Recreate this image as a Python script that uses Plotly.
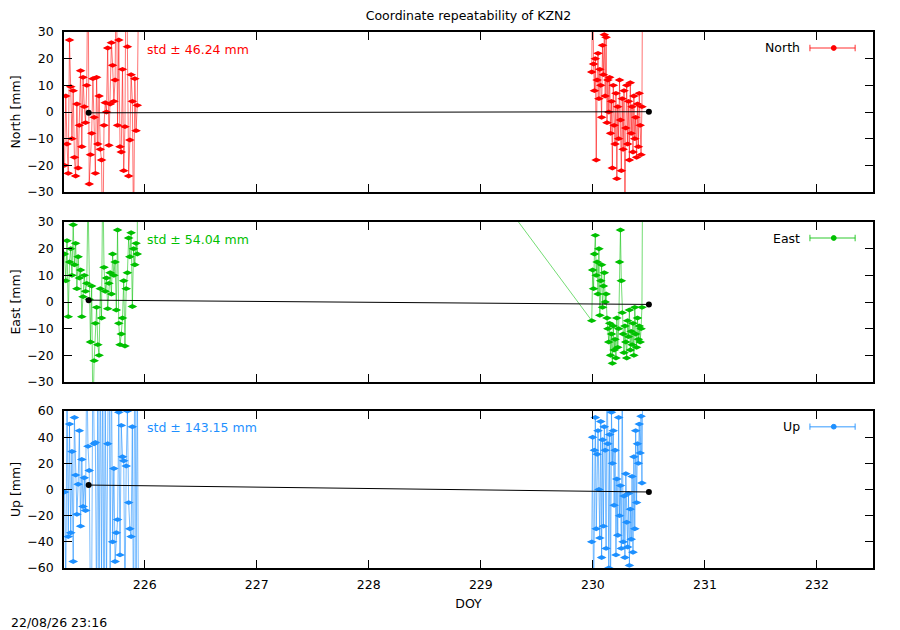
import plotly.graph_objects as go
from plotly.subplots import make_subplots

# epochs (day of year) of the two sessions
doy_a = [225.285, 225.296, 225.307, 225.318, 225.329, 225.340, 225.351, 225.362, 225.373, 225.384,
         225.395, 225.406, 225.417, 225.428, 225.439, 225.450, 225.461, 225.472, 225.483, 225.494,
         225.505, 225.516, 225.527, 225.538, 225.549, 225.560, 225.571, 225.582, 225.593, 225.604,
         225.615, 225.626, 225.637, 225.648, 225.659, 225.670, 225.681, 225.692, 225.703, 225.714,
         225.725, 225.736, 225.747, 225.758, 225.769, 225.780, 225.791, 225.802, 225.813, 225.824,
         225.835, 225.846, 225.857, 225.868, 225.879, 225.890, 225.901, 225.912, 225.923, 225.934,
         225.945]
doy_b = [229.990, 229.998, 230.006, 230.014, 230.022, 230.030, 230.038, 230.046, 230.054, 230.062,
         230.070, 230.078, 230.086, 230.094, 230.102, 230.110, 230.118, 230.126, 230.134, 230.142,
         230.150, 230.158, 230.166, 230.174, 230.182, 230.190, 230.198, 230.206, 230.214, 230.222,
         230.230, 230.238, 230.246, 230.254, 230.262, 230.270, 230.278, 230.286, 230.294, 230.302,
         230.310, 230.318, 230.326, 230.334, 230.342, 230.350, 230.358, 230.366, 230.374, 230.382,
         230.390, 230.398, 230.406, 230.414, 230.422, 230.430, 230.438, 230.446]

# residuals [mm]
north_a = [-20, 6, -12, -23, 27, 9.5, -10, 8, -17, -24,
           3, -21, -5, 15.5, -13, 13, 2, -4, 10, 65,
           -27, -16, -8, 12.5, -2, -23, 13, -12, 6, -14,
           -18, -55, -5, 3.5, 0, 24, -12.5, 3, 26, 17.5,
           4, 12, 58, -5, 27, -13, -15, 16, -22, -5.5,
           70, 24.5, -24, -10.5, 14, 4, -48, 12.5, -7, 2.5,
           45]
north_b = [15, 60, 18, 8, 20, -18, 12, 22, 5, 16,
           10, -2, 25, 14, 29, 6, 28, -4, 12, 0,
           13, -8, 4, -21, 10, -5, -12, 7, -25, 2,
           -10, 12, -3, -22, 5, -14, 8, -40, -6, 10,
           -12, 4, -18, 11, -8, 2, -15, 6, -10, -2,
           -17, 3, -13, 7, -5, -16, 2, 80]
east_a = [18, 8, 23, -5.5, 15, 20, 10, 29, 14, 22,
          5, 17, 9, 12, -5.5, 2, 10, 4, 7, 40,
          1, -15, 6, -45, -22, -8, -2, -16, -20, 5,
          -6, 50, 13, 4, 9, -2.5, 7, 11, 3, 18,
          10, 15, -3, 27, -8, -16, -12, -6, 8, -16.5,
          5, 11, 24, 17, 26, -1.7, 20, 14, 22, 18,
          222]
east_b = [-7, 12, 5, 18, 25, 10, 15, 3, 20, -5,
          8, 14, -2, 6, 11, 0, 3, -6, -10, -15,
          -8, -20, -12, -23, -9, -18, -14, -21, -6, -17,
          -10, 15, 27, 8, -4, -12, -19, -9, -15, -21,
          -7, -13, -3, -18, -11, -16, -8, -20, -2, -12,
          -17, -6, -14, -9, -15, -10, -2, 70]
up_a = [-2, -75, 80, -36, 50, -33, 29, -55, 55, 11,
        -19, 4, 45, -28, 23, -13, 9, -16, 100, 33,
        14.5, -90, -80, 120, 35, 36, -100, 90, -85, 110,
        -70, 95, -120, 80, -75, 35, 150, -65, 100, -40,
        16, -55, -33, -23, 59, -50, 49, 25, 22, -90,
        18, 60, -10, -30, -36, 48, -120, 140, -80, 100,
        -100]
up_b = [-40, 40, -90, 30, 55, -30, 27, 45, 0, -37,
        52, -52, 38, -28, 48, 30, -45, 100, 35, -60,
        42, -80, 59, 20, 45, -12, 30, -50, 8, -35,
        55, -20, 3, -45, 90, -40, -5, -52, 12, -25,
        -44, -3, -58, -15, -38, 10, -48, 25, -30, 45,
        -10, 35, 20, 50, 28, 56, 5, 100]

# trend between the session means
trend_doy = [225.50, 230.50]
trend_north = [-0.3, 0.1]
trend_east = [0.7, -0.9]
trend_up = [3.4, -1.9]

names = ["North", "East", "Up"]
std_mm = [46.24, 54.04, 143.15]
colors = ["#ff0000", "#00c000", "#1e90ff"]
line_colors = ["rgba(255,0,0,0.55)", "rgba(0,192,0,0.55)", "rgba(30,144,255,0.6)"]
y_ranges = [[-30, 30], [-30, 30], [-60, 60]]
y_dticks = [10, 10, 20]
x_ticks = [226, 227, 228, 229, 230, 231, 232]

FONT = "DejaVu Sans, Liberation Sans, sans-serif"
FSIZE = 12.5

fig = make_subplots(rows=3, cols=1, shared_xaxes=True)

series = [
  (doy_a + [None] + doy_b, north_a + [None] + north_b, trend_north),
  (doy_a + doy_b, east_a + east_b, trend_east),
  (doy_a + [None] + doy_b, up_a + [None] + up_b, trend_up),
]

for i, (xs, ys, trend) in enumerate(series):
  row = i + 1
  fig.add_hline(y=0, line={"color": "#909090", "width": 1, "dash": "dot"}, row=row, col=1)
  fig.add_trace(
    go.Scatter(
      x=xs, y=ys, mode="lines+markers", name=names[i],
      line={"color": line_colors[i], "width": 1},
      marker={"color": colors[i], "size": 7, "symbol": "diamond-wide"},
      error_x={"type": "constant", "value": 0.028, "thickness": 1.5, "width": 0, "color": colors[i]},
      connectgaps=False, showlegend=False,
    ),
    row=row, col=1,
  )
  fig.add_trace(
    go.Scatter(
      x=trend_doy, y=trend, mode="lines+markers",
      line={"color": "black", "width": 1},
      marker={"color": "black", "size": 6},
      showlegend=False,
    ),
    row=row, col=1,
  )

  suffix = "" if row == 1 else str(row)
  xd, yd = f"x{suffix} domain", f"y{suffix} domain"
  fig.add_annotation(
    xref=xd, yref=yd, x=0.100, y=0.893, xanchor="left", yanchor="middle",
    text=f"std ± {std_mm[i]:.2f} mm", showarrow=False,
    font={"family": FONT, "size": FSIZE, "color": colors[i]},
  )
  fig.add_annotation(
    xref=xd, yref=yd, x=0.912, y=0.90, xanchor="right", yanchor="middle",
    text=names[i], showarrow=False, font={"family": FONT, "size": FSIZE, "color": "black"},
  )
  # legend sample: horizontal error bar with point
  fig.add_shape(type="line", xref=xd, yref=yd, x0=0.922, x1=0.978, y0=0.90, y1=0.90,
                line={"color": line_colors[i], "width": 1.5})
  for xc in (0.922, 0.978):
    fig.add_shape(type="line", xref=xd, yref=yd, x0=xc, x1=xc, y0=0.88, y1=0.92,
                  line={"color": line_colors[i], "width": 1.5})
  fig.add_shape(type="circle", xref=xd, yref=yd, x0=0.9485, x1=0.9545, y0=0.885, y1=0.915,
                fillcolor=colors[i], line={"color": colors[i], "width": 1})

  fig.update_yaxes(
    range=y_ranges[i], dtick=y_dticks[i], tick0=0,
    title={"text": f"{names[i]} [mm]", "font": {"family": FONT, "size": FSIZE}, "standoff": 6},
    row=row, col=1,
  )

axis_style = {
  "showline": True, "linecolor": "black", "linewidth": 1.5, "mirror": "ticks",
  "ticks": "inside", "ticklen": 8, "tickwidth": 1, "tickcolor": "black",
  "showgrid": False, "zeroline": False,
  "tickfont": {"family": FONT, "size": FSIZE, "color": "black"},
}
fig.update_xaxes(range=[225.28, 232.5], tickvals=x_ticks, **axis_style)
fig.update_xaxes(showticklabels=False, row=1, col=1)
fig.update_xaxes(showticklabels=False, row=2, col=1)
fig.update_xaxes(title={"text": "DOY", "font": {"family": FONT, "size": FSIZE}, "standoff": 8},
                 ticklabelstandoff=4, row=3, col=1)
fig.update_yaxes(ticklabelstandoff=6, automargin=False, **axis_style)

# the page body adds an 8 px offset, so the margins are shifted by that amount
fig.update_layout(
  width=900, height=630,
  margin={"l": 56, "r": 35, "t": 24, "b": 70},
  paper_bgcolor="white", plot_bgcolor="white",
  font={"family": FONT, "size": FSIZE, "color": "black"},
  title={"text": "Coordinate repeatability of KZN2", "x": 0.5, "xanchor": "center",
         "xref": "paper", "y": 1.0, "yanchor": "top", "pad": {"t": 3},
         "font": {"family": FONT, "size": FSIZE}},
  yaxis={"domain": [0.7015, 1.0]},
  yaxis2={"domain": [0.347, 0.6455]},
  yaxis3={"domain": [0.0, 0.2929]},
  showlegend=False,
)
fig.add_annotation(
  xref="paper", yref="paper", x=-0.068, y=-0.101, xanchor="left", yanchor="middle",
  text="22/08/26 23:16", showarrow=False, font={"family": FONT, "size": FSIZE},
)

fig.write_html("out.html")
